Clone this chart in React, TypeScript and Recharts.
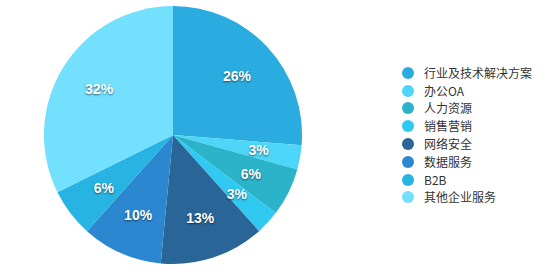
import * as React from "react";
import { PieChart, Pie, Cell, Legend } from "recharts";

const categories = ["行业及技术解决方案", "办公OA", "人力资源", "销售营销", "网络安全", "数据服务", "B2B", "其他企业服务"];
const shares = [26, 3, 6, 3, 13, 10, 6, 32];
const colors = ["#2aace0", "#4dd6fa", "#2ab3c9", "#2fc9f2", "#2a6597", "#2b87d0", "#28b4e2", "#73e0fe"];

const data = categories.map((name, i) => ({ name, value: shares[i] }));

const RADIAN = Math.PI / 180;
const FONT = "'Liberation Sans', Arial, sans-serif";

function renderLabel(props: any) {
  const { cx, cy, midAngle, value } = props;
  const r = 87;
  const x = cx + r * Math.cos(-midAngle * RADIAN);
  const y = cy + r * Math.sin(-midAngle * RADIAN);
  return (
    <text
      x={x}
      y={y}
      fill="#fff"
      textAnchor="middle"
      dominantBaseline="central"
      fontFamily={FONT}
      fontSize={14}
      fontWeight="bold"
      style={{ textShadow: "0 1px 2px rgba(0,0,0,0.55)" }}
    >
      {value}%
    </text>
  );
}

function LegendList() {
  return (
    <div style={{ fontFamily: "'Noto Sans CJK SC', sans-serif", fontSize: 12, color: "#333" }}>
      {categories.map((c, i) => (
        <div key={c} style={{ display: "flex", alignItems: "center", height: 17.8 }}>
          <span
            style={{ width: 12, height: 12, borderRadius: "50%", background: colors[i], marginRight: 10, display: "inline-block" }}
          />
          <span style={{ lineHeight: "14px" }}>{c}</span>
        </div>
      ))}
    </div>
  );
}

export default function App() {
  return (
    <div style={{ position: "absolute", left: 0, top: 0, width: 552, height: 273, background: "#fff" }}>
      <PieChart width={552} height={273} margin={{ top: 0, right: 0, bottom: 0, left: 0 }}>
        <Pie
          data={data}
          dataKey="value"
          nameKey="name"
          cx={173}
          cy={135}
          outerRadius={129}
          startAngle={90}
          endAngle={-270}
          stroke="none"
          label={renderLabel}
          labelLine={false}
          isAnimationActive={false}
        >
          {data.map((d, i) => (
            <Cell key={d.name} fill={colors[i]} />
          ))}
        </Pie>
        <Legend
          content={<LegendList />}
          layout="vertical"
          wrapperStyle={{ position: "absolute", left: 402, top: 64, width: 150 }}
        />
      </PieChart>
    </div>
  );
}
